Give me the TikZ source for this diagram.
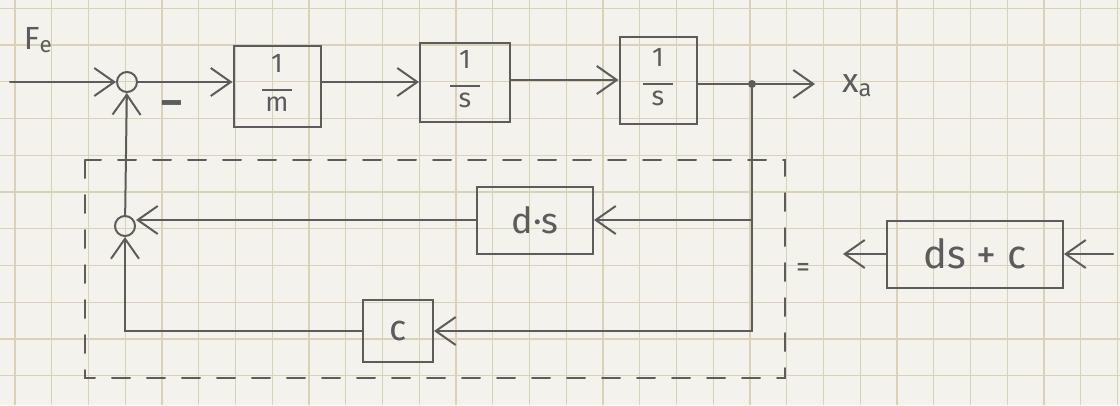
\documentclass[tikz,border=0pt]{standalone}
\usepackage{fontspec}
\setmainfont{Fira Sans}
\usetikzlibrary{arrows.meta}
\definecolor{paper}{RGB}{243,242,237}
\definecolor{gridc}{RGB}{218,210,184}
\definecolor{pencil}{RGB}{92,92,92}
\newcommand\hfrac[2]{\begin{tabular}{@{}c@{}}#1\\[-10pt]\rule{1.1em}{2.4pt}\\[-9pt]#2\end{tabular}}
\begin{document}
\begin{tikzpicture}[x=1pt,y=-1pt,
  pen/.style={draw=pencil, line width=2pt, line cap=round},
  arr/.style={pen, -{Straight Barb[length=20pt,width=28pt]}},
  blk/.style={pen, rectangle, inner sep=0pt, text=pencil, font=\fontsize{27}{29}\selectfont},
  sumc/.style={pen, circle, minimum size=20pt, inner sep=0pt},
  dotc/.style={circle, fill=pencil, minimum size=8pt, inner sep=0pt},
  lab/.style={text=pencil, inner sep=0pt}]
\fill[paper] (0,0) rectangle (1120,405);
\useasboundingbox (0,0) rectangle (1120,405);
\foreach \i in {0,...,30} \draw[gridc, line width=1.2pt] ({15+36.75*\i},0) -- ({15+36.75*\i},405);
\foreach \j in {0,...,10} \draw[gridc, line width=1.2pt] (0,{8.3+36.75*\j}) -- (1120,{8.3+36.75*\j});
% main path
\coordinate (in) at (10,82);
\node[sumc] (s1) at (127,82) {};
\node[blk, minimum width=87pt, minimum height=81pt] (b1) at (277,86) {\hfrac{1}{m}};
\node[blk, minimum width=90pt, minimum height=79pt] (b2) at (465,82) {\hfrac{1}{s}};
\node[blk, minimum width=77pt, minimum height=87pt] (b3) at (658,80) {\hfrac{1}{s}};
\node[dotc] (br) at (752,84) {};
\coordinate (out) at (815,84);
\node[lab, font=\fontsize{32}{34}\selectfont] (fe) at (38,40) {F\textsubscript{e}};
\node[lab, font=\fontsize{40}{42}\selectfont\bfseries] (minus) at (172,108) {–};
\node[lab, font=\fontsize{34}{36}\selectfont] (xa) at (857,86) {x\textsubscript{a}};
% feedback
\node[sumc] (s2) at (125,226) {};
\node[blk, minimum width=116pt, minimum height=67pt, font=\fontsize{36}{38}\selectfont] (ds) at (535,220) {d·s};
\node[blk, minimum width=70pt, minimum height=62pt, font=\fontsize{36}{38}\selectfont] (cb) at (398,331) {c};
\draw[arr] (in) -- (s1);
\draw[arr] (s2) -- (s1);
\draw[arr] (s1) -- (b1.west |- s1);
\draw[arr] (b1.east |- b2) -- (b2);
\draw[arr] (b2.east |- b3) -- (b3);
\draw[pen] (b3.east |- br) -- (br);
\draw[arr] (br) -- (out);
\draw[arr] (br) |- (ds.east);
\draw[arr] (br) |- (cb.east);
\draw[arr] (ds.west) -- (ds.west -| s2.east);
\draw[arr] (cb.west) -| (s2.south);
% dashed frame
\draw[pen, dash pattern=on 18pt off 17pt] (85,160) rectangle (785,378);
\node[lab, font=\fontsize{28}{30}\selectfont] (eq) at (803,270) {=};
% equivalent block
\node[blk, minimum width=176pt, minimum height=67pt, font=\fontsize{40}{42}\selectfont] (dsc) at (975,254) {ds + c};
\coordinate (dscin) at (1113,254);
\coordinate (dscout) at (843,254);
\draw[arr] (dscin) -- (dsc);
\draw[arr] (dsc) -- (dscout);
\end{tikzpicture}
\end{document}
